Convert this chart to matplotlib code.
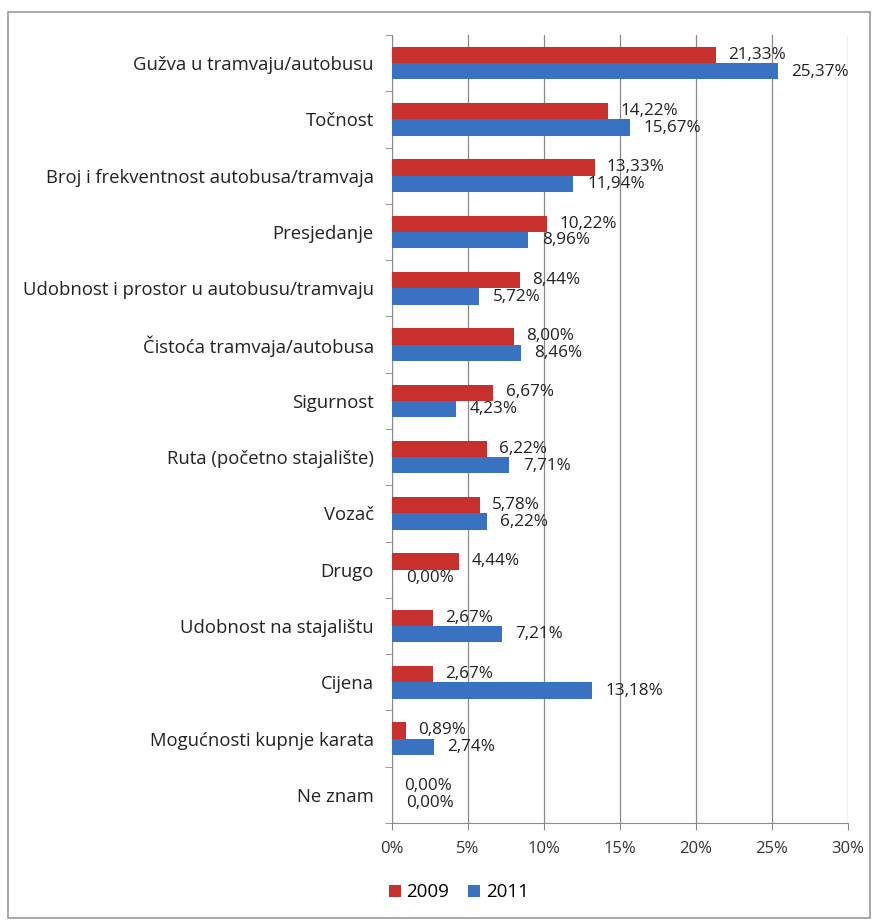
import numpy as np
import matplotlib.pyplot as plt
from matplotlib.patches import Rectangle

# ==== Data ====
categories = [
    "Gužva u tramvaju/autobusu",
    "Točnost",
    "Broj i frekventnost autobusa/tramvaja",
    "Presjedanje",
    "Udobnost i prostor u autobusu/tramvaju",
    "Čistoća tramvaja/autobusa",
    "Sigurnost",
    "Ruta (početno stajalište)",
    "Vozač",
    "Drugo",
    "Udobnost na stajalištu",
    "Cijena",
    "Mogućnosti kupnje karata",
    "Ne znam",
]
vals_2009 = [21.33, 14.22, 13.33, 10.22, 8.44, 8.00, 6.67, 6.22, 5.78, 4.44, 2.67, 2.67, 0.89, 0.00]
vals_2011 = [25.37, 15.67, 11.94, 8.96, 5.72, 8.46, 4.23, 7.71, 6.22, 0.00, 7.21, 13.18, 2.74, 0.00]
xticks = [0, 5, 10, 15, 20, 25, 30]

RED = "#C8302E"
BLUE = "#3A72C2"
plt.rcParams["font.family"] = ["Open Sans", "DejaVu Sans"]

fig = plt.figure(figsize=(8.75, 9.21), dpi=100)
ax = fig.add_axes([0.448, 0.1064, 0.521, 0.8556])

y = np.arange(len(categories))
h = 0.29
ax.barh(y - h / 2, vals_2009, height=h, color=RED, label="2009", zorder=3)
ax.barh(y + h / 2, vals_2011, height=h, color=BLUE, label="2011", zorder=3)

def fmt(v):
    return f"{v:.2f}%".replace(".", ",")

for i in range(len(categories)):
    ax.text(vals_2009[i] + 0.8, y[i] - 0.15, fmt(vals_2009[i]),
            va="center", ha="left", fontsize=12.3, color="#222222", zorder=4)
    ax.text(vals_2011[i] + 0.9, y[i] + 0.15, fmt(vals_2011[i]),
            va="center", ha="left", fontsize=12.3, color="#222222", zorder=4)

ax.set_ylim(len(categories) - 0.5, -0.5)
ax.set_xlim(0, 30)
ax.set_xticks(xticks)
ax.set_xticklabels([f"{t}%" for t in xticks], fontsize=12, color="#333333")
ax.set_yticks(y)
ax.set_yticklabels(categories, fontsize=13.3, color="#222222")
ax.tick_params(axis="y", length=0, pad=13)
ax.set_yticks(np.arange(len(categories) + 1) - 0.5, minor=True)
ax.tick_params(axis="y", which="minor", length=5, color="#888888")
ax.tick_params(axis="x", length=5, color="#888888", pad=8)

ax.grid(axis="x", color="#8a8a8a", linewidth=0.9, zorder=0)
for s in ["top", "right"]:
    ax.spines[s].set_visible(False)
for s in ["left", "bottom"]:
    ax.spines[s].set_color("#8a8a8a")

fig.legend(loc="lower left", bbox_to_anchor=(0.425, 0.003), ncol=2, frameon=False,
           fontsize=13.5, handlelength=0.65, handleheight=0.65, handletextpad=0.3,
           columnspacing=1.0)

fig.patches.append(Rectangle((0.009, 0.003), 0.985, 0.984, transform=fig.transFigure,
                             fill=False, edgecolor="#9a9a9a", linewidth=1.2))

fig.savefig("out.png", dpi=100)
